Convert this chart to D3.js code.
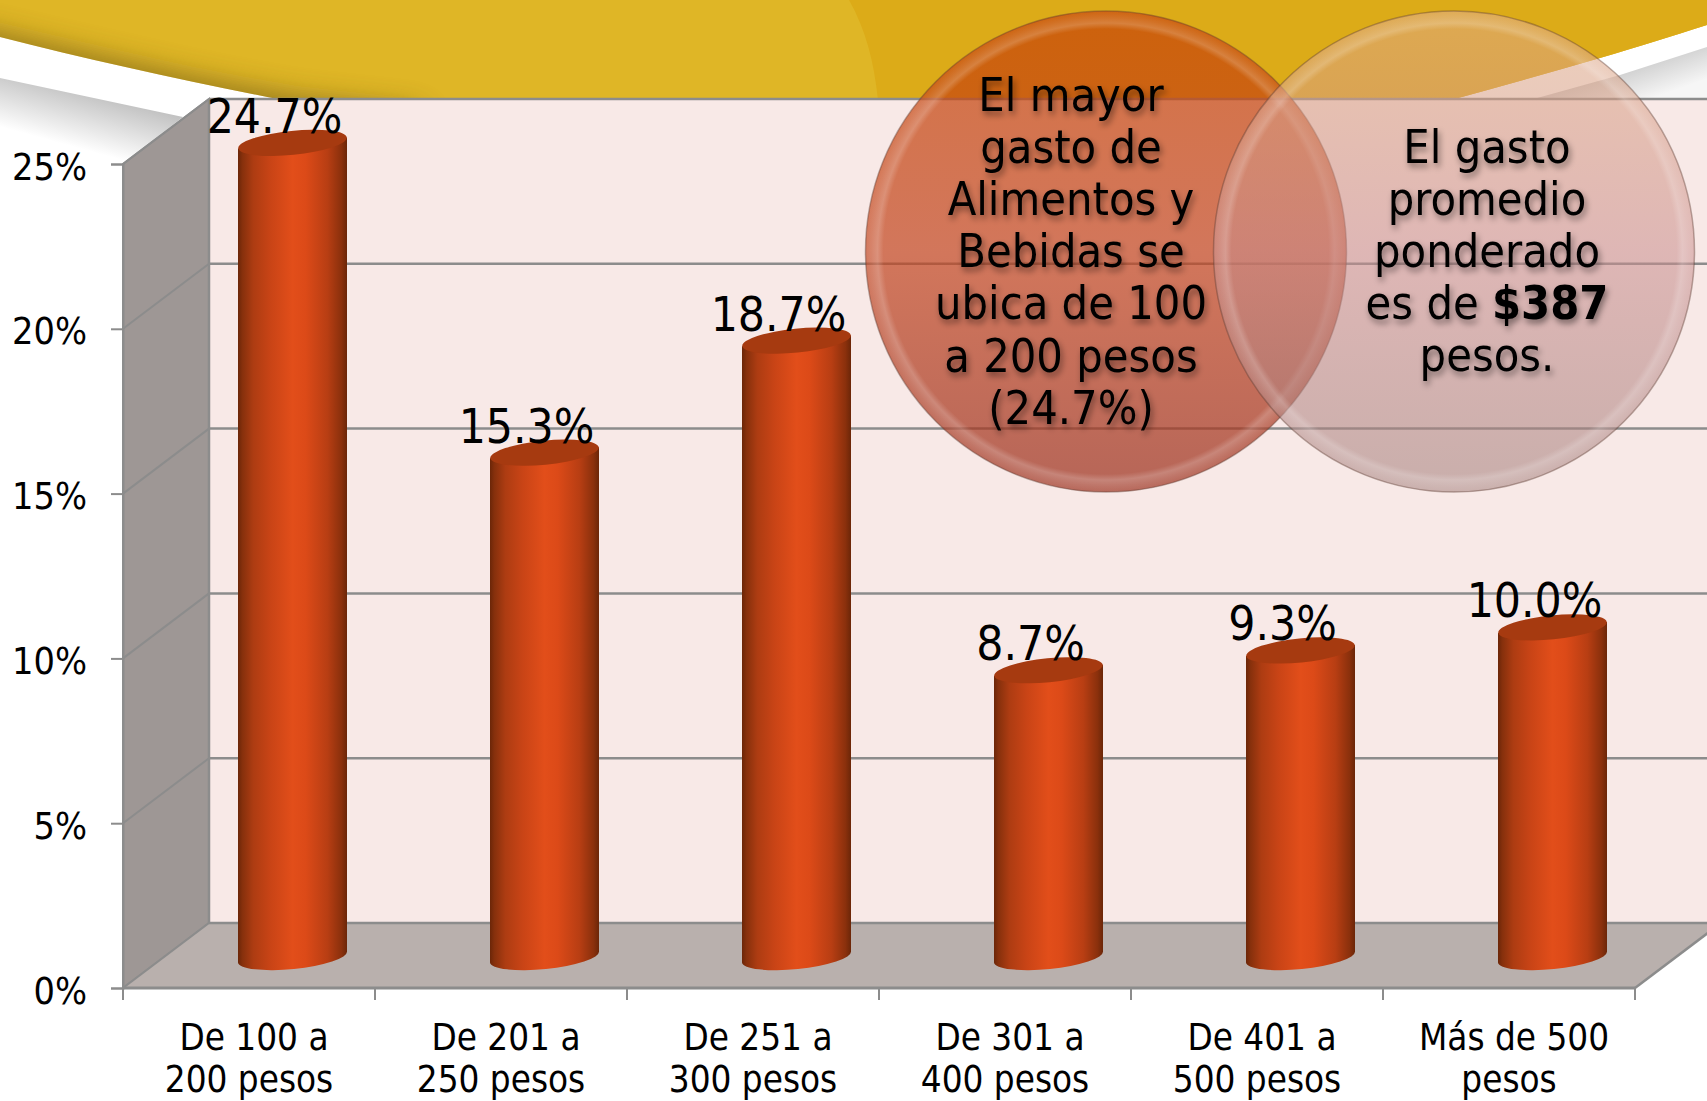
<!DOCTYPE html>
<html><head><meta charset="utf-8">
<script src="https://cdn.jsdelivr.net/npm/d3@7"></script>
<style>
html,body{margin:0;padding:0;background:#fff;overflow:hidden}
svg{display:block}
text{font-family:'DejaVu Sans Condensed','DejaVu Sans',sans-serif;fill:#000}
</style></head><body>
<svg id="c" width="1707" height="1101"></svg>
<script>
const categories=["De 100 a|200 pesos","De 201 a|250 pesos","De 251 a|300 pesos","De 301 a|400 pesos","De 401 a|500 pesos","Más de 500|pesos"];
const values=[24.7,15.3,18.7,8.7,9.3,10.0];
const valueLabels=["24.7%","15.3%","18.7%","8.7%","9.3%","10.0%"];
const yTicks=[0,5,10,15,20,25];
const note1=["El mayor","gasto de","Alimentos y","Bebidas se","ubica de 100","a 200 pesos","(24.7%)"];
const note2=[["El gasto"],["promedio"],["ponderado"],["es de ","$387"],["pesos."]];

const W=1707,H=1101,dx=86,dy=-65;
const svg=d3.select("#c");
const x=d3.scaleBand().domain(categories).range([123,1635]);
const y=d3.scaleLinear().domain([0,25]).range([988,164]);
const defs=svg.append("defs");
function lin(id,stops,a){const g=defs.append("linearGradient").attr("id",id);
  Object.entries(a||{}).forEach(([k,v])=>g.attr(k,v));
  stops.forEach(s=>g.append("stop").attr("offset",s[0]).attr("stop-color",s[1]).attr("stop-opacity",s[2]==null?1:s[2]));}
lin("bar",[[0,"#6b2608"],[.04,"#86300c"],[.14,"#ad3c12"],[.3,"#c94416"],[.5,"#e24e1a"],[.62,"#dc4a18"],[.82,"#b83e13"],[.95,"#8a300c"],[1,"#6b2608"]]);
lin("shadeL",[[0,"#c2c2c2"],[1,"#ffffff"]],{gradientUnits:"userSpaceOnUse",x1:100,y1:95,x2:85,y2:150});
lin("shadeR",[[0,"#cfcfcf"],[1,"#f6f6f6"]],{gradientUnits:"userSpaceOnUse",x1:1630,y1:68,x2:1642,y2:102});
lin("c1",[[0,"#c84808",.74],[.5,"#c2451f",.7],[1,"#9c3220",.72]],{x1:0,y1:0,x2:0,y2:1});
lin("c2",[[0,"#e0a880",.55],[.5,"#c98d8c",.55],[1,"#a27e7a",.55]],{x1:0,y1:0,x2:0,y2:1});
const rg=defs.append("radialGradient").attr("id","rim");
[[0,0],[.925,0],[.95,.2],[.975,.1],[1,.02]].forEach(s=>rg.append("stop").attr("offset",s[0]).attr("stop-color","#fff").attr("stop-opacity",s[1]));
const bl=defs.append("filter").attr("id","blur").attr("filterUnits","userSpaceOnUse").attr("x",-200).attr("y",-200).attr("width",1200).attr("height",500);
bl.append("feGaussianBlur").attr("stdDeviation",15);
const ts=defs.append("filter").attr("id","ts").attr("x","-10%").attr("y","-10%").attr("width","120%").attr("height","130%");
ts.append("feDropShadow").attr("dx",2).attr("dy",4).attr("stdDeviation",3).attr("flood-color","#000").attr("flood-opacity",.45);

// background banner
const goldPath="M0,0 L1707,0 L1707,25 C1670,37 1640,46 1600,58 C1550,73 1500,86 1451,100 L283,100 C190,82 90,60 0,37 Z";
defs.append("clipPath").attr("id","goldClip").append("path").attr("d",goldPath);
svg.append("path").attr("d","M0,78 L183,117 L123,164 L0,164 Z").attr("fill","url(#shadeL)");
svg.append("path").attr("d","M1707,47 L1620,75 L1530,100 L1707,100 Z").attr("fill","url(#shadeR)");
svg.append("path").attr("d",goldPath).attr("fill","#dfb626");
svg.append("path").attr("d","M849,0 C866,30 874,62 878,100 L1707,100 L1707,0 Z").attr("fill","#dcab18").attr("clip-path","url(#goldClip)");
const gs=svg.append("g").attr("clip-path","url(#goldClip)");
gs.append("path").attr("d","M-40,40 C90,70 190,95 300,113 L420,126").attr("fill","none").attr("stroke","#6e5a1c").attr("stroke-width",24).attr("opacity",.9).attr("filter","url(#blur)");

// 3D walls
svg.append("rect").attr("x",123+dx).attr("y",y(25)+dy).attr("width",W-123-dx).attr("height",y(0)-y(25)).attr("fill","#f8e9e7");
const wall=[[123,y(0)],[123,y(25)],[123+dx,y(25)+dy],[123+dx,y(0)+dy]];
svg.append("polygon").attr("points",wall.join(" ")).attr("fill","#9e9795").attr("stroke","#8c8c8c").attr("stroke-width",2);
const floor=[[123,y(0)],[123+dx,y(0)+dy],[1635+dx,y(0)+dy],[1635,y(0)]];
svg.append("polygon").attr("points",floor.join(" ")).attr("fill","#b9b0ad");
const grid=svg.append("g").attr("stroke","#8c8c8c").attr("fill","none");
yTicks.forEach(v=>{
  grid.append("line").attr("x1",123+dx).attr("x2",W).attr("y1",y(v)+dy).attr("y2",y(v)+dy).attr("stroke-width",2.5);
  grid.append("line").attr("x1",123).attr("x2",123+dx).attr("y1",y(v)).attr("y2",y(v)+dy).attr("stroke-width",2);
});
grid.append("line").attr("x1",1635).attr("y1",y(0)).attr("x2",1635+dx).attr("y2",y(0)+dy).attr("stroke-width",2.5);
grid.append("line").attr("x1",123+dx).attr("y1",y(25)+dy).attr("x2",123+dx).attr("y2",y(0)+dy).attr("stroke-width",2.5);

// axes
const gy=svg.append("g").attr("transform","translate(123,0)")
  .call(d3.axisLeft(y).tickValues(yTicks).tickSize(12).tickPadding(24).tickFormat(d=>d+"%"));
gy.select(".domain").attr("stroke","#8c8c8c").attr("stroke-width",2);
gy.selectAll(".tick line").attr("stroke","#8c8c8c").attr("stroke-width",2);
gy.selectAll("text").attr("font-size",37.5).attr("dy",".4em").style("font-family","'DejaVu Sans Condensed','DejaVu Sans'").attr("fill","#000");

svg.append("line").attr("x1",x.range()[0]).attr("x2",x.range()[1]).attr("y1",y(0)).attr("y2",y(0)).attr("stroke","#8c8c8c").attr("stroke-width",3);
d3.range(categories.length+1).forEach(i=>{
  const tx=x.range()[0]+i*x.bandwidth();
  svg.append("line").attr("x1",tx).attr("x2",tx).attr("y1",y(0)).attr("y2",y(0)+12).attr("stroke","#8c8c8c").attr("stroke-width",2);
});
const lab=svg.append("g").attr("font-size",36.5).attr("text-anchor","middle");
categories.forEach(c=>{
  const p=c.split("|"),cx=x(c)+x.bandwidth()/2;
  lab.append("text").attr("x",cx+5).attr("y",y(0)+62).text(p[0]);
  lab.append("text").attr("x",cx).attr("y",y(0)+104).text(p[1]);
});

// cylinders
const rx=54.5,ry=12,rot=-5.7,tiltY=5.5,baseOff=-31,depthOff=43.5;
const bars=svg.append("g");
categories.forEach((c,i)=>{
  const cx=x(c)+x.bandwidth()/2+depthOff, by=y(0)+baseOff, ty=y(values[i])+baseOff;
  bars.append("path").attr("fill","url(#bar)")
    .attr("d",`M${cx-rx},${ty+tiltY} L${cx-rx},${by+tiltY} A${rx},${ry} ${rot} 0 0 ${cx+rx},${by-tiltY} L${cx+rx},${ty-tiltY} Z`);
  bars.append("ellipse").attr("cx",cx).attr("cy",ty).attr("rx",rx).attr("ry",ry)
    .attr("transform",`rotate(${rot} ${cx} ${ty})`).attr("fill","#a63a10");
  svg.append("text").attr("x",cx-18).attr("y",ty-10).attr("text-anchor","middle").attr("font-size",47.5).text(valueLabels[i]);
});

// callout circles
const R=240.5,cy=251.5;
[[1106,"c1"],[1454,"c2"]].forEach(([cx,f])=>{
  svg.append("circle").attr("cx",cx).attr("cy",cy).attr("r",R).attr("fill",`url(#${f})`).attr("stroke","#5a3a30").attr("stroke-opacity",.4).attr("stroke-width",1.5);
  svg.append("circle").attr("cx",cx).attr("cy",cy).attr("r",R).attr("fill","url(#rim)");
});
const t1=svg.append("g").attr("filter","url(#ts)").attr("text-anchor","middle").attr("font-size",46.5);
note1.forEach((s,i)=>t1.append("text").attr("x",1071).attr("y",111+i*52.1).text(s));
const t2=svg.append("g").attr("filter","url(#ts)").attr("text-anchor","middle").attr("font-size",46.5);
note2.forEach((s,i)=>{
  const t=t2.append("text").attr("x",1487).attr("y",163+i*52.1);
  t.append("tspan").text(s[0]);
  if(s[1]) t.append("tspan").attr("font-weight","bold").text(s[1]);
});
</script></body></html>
